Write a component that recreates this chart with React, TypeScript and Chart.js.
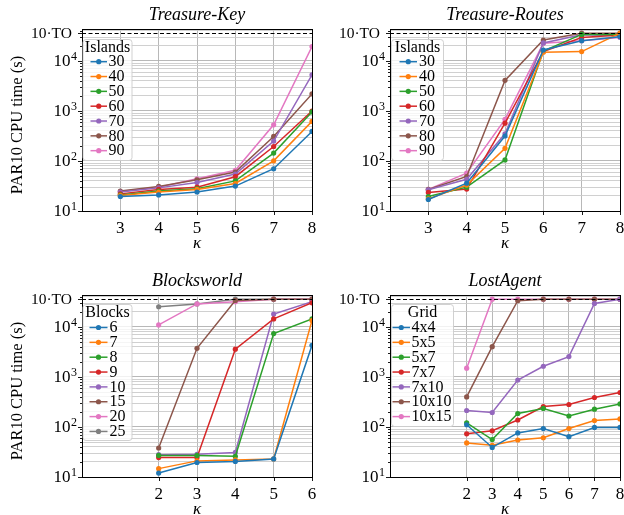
import React, { useEffect, useRef } from 'react';
import { Chart, registerables } from 'chart.js';
Chart.register(...registerables);

const W = 624;
const H = 515;
const FONT = '"Liberation Serif", "Times New Roman", serif';

const TO10 = 36000;
const Y_MIN = 10;
const Y_MAX = 43650;
const Y_MAJOR = [10, 100, 1000, 10000];
const Y_MAJOR_EXP = ['1', '2', '3', '4'];
const TO_LABEL = '10·TO';
const Y_LABEL = 'PAR10 CPU time (s)';
const X_LABEL = 'κ';

const COLORS = ['#1f77b4', '#ff7f0e', '#2ca02c', '#d62728', '#9467bd', '#8c564b', '#e377c2', '#7f7f7f'];

// Treasure-Key
const tkKappa = [3, 4, 5, 6, 7, 8];
const tkTicks = [3, 4, 5, 6, 7, 8];
const tkNames = ['30', '40', '50', '60', '70', '80', '90'];
const tk30 = [19.5, 21, 24, 31.5, 70, 390];
const tk40 = [20.5, 24, 27, 35.5, 101, 620];
const tk50 = [21, 25, 28, 40, 144, 960];
const tk60 = [22, 27, 30, 48.5, 195, 1000];
const tk70 = [24, 29, 37, 55, 250, 5300];
const tk80 = [25, 31, 42, 60, 310, 2200];
const tk90 = [24.5, 30, 44, 65, 530, 19500];

// Treasure-Routes
const trKappa = [3, 4, 5, 6, 7, 8];
const trTicks = [3, 4, 5, 6, 7, 8];
const trNames = ['30', '40', '50', '60', '70', '80', '90'];
const tr30 = [17, 36, 316, 16600, 25500, 30500];
const tr40 = [17.5, 33, 179, 15000, 15400, 36000];
const tr50 = [19.5, 30, 105, 15800, 34000, 34000];
const tr60 = [23.5, 27.5, 570, 15500, 29500, 33000];
const tr70 = [26.5, 43, 350, 23000, 33500, 32000];
const tr80 = [27, 49, 4100, 26300, 36000, 36000];
const tr90 = [27, 57, 680, 22600, 25500, 29500];

// Blocksworld
const bwKappa = [2, 3, 4, 5, 6];
const bwTicks = [2, 3, 4, 5, 6];
const bwNames = ['6', '7', '8', '9', '10', '15', '20', '25'];
const bw6 = [12, 19.5, 20.5, 23, 4300];
const bw7 = [14.7, 21, 22, 23, 13500];
const bw8 = [27, 27, 26, 7400, 14500];
const bw9 = [24.5, 24.5, 3600, 14500, 30500];
const bw10 = [28, 28.5, 31, 18200, 32000];
const bw15 = [38, 3750, 34000, 36000, 36000];
const bw20 = [11000, 29000, 32000, 36000, 36000];
const bw25 = [25400, 29000, 36000, 36000, 36000];

// LostAgent
const laKappa = [2, 3, 4, 5, 6, 7, 8];
const laTicks = [2, 3, 4, 5, 6, 7, 8];
const laNames = ['4x4', '5x5', '5x7', '7x7', '7x10', '10x10', '10x15'];
const la44 = [111, 39, 76, 93, 64, 98, 98];
const la55 = [48, 43, 55, 61, 93, 135, 145];
const la57 = [121, 56, 186, 235, 166, 227, 290];
const la77 = [73, 84, 138, 257, 282, 389, 490];
const la710 = [214, 195, 870, 1640, 2560, 29500, 36000];
const la1010 = [400, 4050, 33500, 36000, 36000, 36000, 36000];
const la1015 = [1500, 36000, 36000, 36000, 36000, 36000, 36000];

const yGrid: number[] = [];
for (let k = 1; k <= 4; k++) {
  for (let m = 1; m <= 9; m++) {
    const v = m * Math.pow(10, k);
    if (v <= Y_MAX) yGrid.push(v);
  }
}
yGrid.push(TO10);

type Legend = { x: number; y: number; w: number; h: number; titleY: number; firstY: number; step: number; s0: number; s1: number; tx: number };
type Panel = {
  title: string;
  kappa: number[];
  xTicks: number[];
  xMin: number;
  xMax: number;
  names: string[];
  values: number[][];
  legendTitle: string;
  area: { l: number; t: number; r: number; b: number };
  legend: Legend;
  yLabelCenter: number | null;
  titleY: number;
  kappaY: number;
};

const panels: Panel[] = [
  {
    title: 'Treasure-Key', kappa: tkKappa, xTicks: tkTicks, xMin: 2, xMax: 8, names: tkNames,
    values: [tk30, tk40, tk50, tk60, tk70, tk80, tk90], legendTitle: 'Islands',
    area: { l: 82, t: 29, r: 312, b: 211 },
    legend: { x: 83, y: 39.5, w: 49, h: 121, titleY: 47.3, firstY: 61.7, step: 14.83, s0: 90.5, s1: 107, tx: 108.5 },
    yLabelCenter: 125, titleY: 15.5, kappaY: 243.5,
  },
  {
    title: 'Treasure-Routes', kappa: trKappa, xTicks: trTicks, xMin: 2, xMax: 8, names: trNames,
    values: [tr30, tr40, tr50, tr60, tr70, tr80, tr90], legendTitle: 'Islands',
    area: { l: 390, t: 29, r: 620, b: 211 },
    legend: { x: 391.5, y: 39.5, w: 52, h: 121, titleY: 47.3, firstY: 61.7, step: 14.83, s0: 399.5, s1: 417, tx: 419 },
    yLabelCenter: null, titleY: 15.5, kappaY: 243.5,
  },
  {
    title: 'Blocksworld', kappa: bwKappa, xTicks: bwTicks, xMin: 0, xMax: 6, names: bwNames,
    values: [bw6, bw7, bw8, bw9, bw10, bw15, bw20, bw25], legendTitle: 'Blocks',
    area: { l: 82, t: 295, r: 312, b: 477 },
    legend: { x: 83, y: 304.5, w: 49, h: 136, titleY: 312.7, firstY: 327.5, step: 14.85, s0: 89.5, s1: 107.5, tx: 109.5 },
    yLabelCenter: 391, titleY: 281.5, kappaY: 509.5,
  },
  {
    title: 'LostAgent', kappa: laKappa, xTicks: laTicks, xMin: -1, xMax: 8, names: laNames,
    values: [la44, la55, la57, la77, la710, la1010, la1015], legendTitle: 'Grid',
    area: { l: 390, t: 295, r: 620, b: 477 },
    legend: { x: 391.5, y: 304.5, w: 62, h: 122, titleY: 312.7, firstY: 327.5, step: 14.85, s0: 392.5, s1: 410, tx: 411.5 },
    yLabelCenter: null, titleY: 281.5, kappaY: 509.5,
  },
];

const Y_W = 30;
const X_H = 40;

function roundRect(ctx: CanvasRenderingContext2D, x: number, y: number, w: number, h: number, r: number) {
  ctx.beginPath();
  ctx.moveTo(x + r, y);
  ctx.lineTo(x + w - r, y);
  ctx.arcTo(x + w, y, x + w, y + r, r);
  ctx.lineTo(x + w, y + h - r);
  ctx.arcTo(x + w, y + h, x + w - r, y + h, r);
  ctx.lineTo(x + r, y + h);
  ctx.arcTo(x, y + h, x, y + h - r, r);
  ctx.lineTo(x, y + r);
  ctx.arcTo(x, y, x + r, y, r);
  ctx.closePath();
}

function panelPlugin(p: Panel) {
  return {
    id: 'panelDecor',
    afterDatasetsDraw(chart: any) {
      const ctx: CanvasRenderingContext2D = chart.ctx;
      const ca = chart.chartArea;
      const ys = chart.scales.y;
      const xs = chart.scales.x;
      ctx.save();
      // dashed timeout line
      const yTO = Math.round(ys.getPixelForValue(TO10)) + 0.5;
      ctx.strokeStyle = '#000';
      ctx.lineWidth = 1;
      ctx.setLineDash([4, 2.5]);
      ctx.beginPath();
      ctx.moveTo(ca.left, yTO);
      ctx.lineTo(ca.right, yTO);
      ctx.stroke();
      ctx.setLineDash([]);
      // frame
      ctx.lineWidth = 1;
      ctx.strokeRect(ca.left + 0.5, ca.top + 0.5, ca.right - ca.left, ca.bottom - ca.top);
      // tick marks
      ctx.lineWidth = 0.9;
      ctx.beginPath();
      for (const v of p.xTicks) {
        const x = Math.round(xs.getPixelForValue(v)) + 0.5;
        ctx.moveTo(x, ca.bottom);
        ctx.lineTo(x, ca.bottom + 4);
      }
      for (const v of yGrid) {
        const y = Math.round(ys.getPixelForValue(v)) + 0.5;
        const major = Y_MAJOR.includes(v) || v === TO10;
        ctx.moveTo(ca.left, y);
        ctx.lineTo(ca.left - (major ? 4 : 2), y);
      }
      ctx.stroke();
      // y tick labels
      ctx.fillStyle = '#000';
      Y_MAJOR.forEach((v, i) => {
        const y = ys.getPixelForValue(v);
        ctx.font = `12px ${FONT}`;
        ctx.textAlign = 'right';
        ctx.textBaseline = 'alphabetic';
        const expW = ctx.measureText(Y_MAJOR_EXP[i]).width;
        const right = ca.left - 5;
        ctx.fillText(Y_MAJOR_EXP[i], right, y - 1);
        ctx.font = `17px ${FONT}`;
        ctx.textBaseline = 'middle';
        ctx.fillText('10', right - expW - 0.5, y + 0.5);
      });
      ctx.font = `15.5px ${FONT}`;
      ctx.textAlign = 'right';
      ctx.textBaseline = 'middle';
      ctx.fillText(TO_LABEL, ca.left - 10, ys.getPixelForValue(TO10) + 1);
      // title
      const cx = (ca.left + ca.right) / 2;
      ctx.font = `italic 18px ${FONT}`;
      ctx.textAlign = 'center';
      ctx.textBaseline = 'middle';
      ctx.fillText(p.title, cx, p.titleY);
      // kappa
      ctx.font = `italic 17px ${FONT}`;
      ctx.fillText(X_LABEL, cx, p.kappaY);
      // y label
      if (p.yLabelCenter !== null) {
        ctx.save();
        ctx.translate(17.5, p.yLabelCenter);
        ctx.rotate(-Math.PI / 2);
        ctx.font = `16.5px ${FONT}`;
        ctx.textAlign = 'center';
        ctx.textBaseline = 'middle';
        ctx.fillText(Y_LABEL, 0, 0);
        ctx.restore();
      }
      // legend
      const L = p.legend;
      ctx.globalAlpha = 0.8;
      ctx.fillStyle = '#ffffff';
      roundRect(ctx, L.x, L.y, L.w, L.h, 3);
      ctx.fill();
      ctx.globalAlpha = 1;
      ctx.strokeStyle = 'rgba(204,204,204,0.9)';
      ctx.lineWidth = 1;
      ctx.stroke();
      ctx.fillStyle = '#000';
      ctx.font = `16px ${FONT}`;
      ctx.textAlign = 'center';
      ctx.textBaseline = 'middle';
      ctx.fillText(p.legendTitle, L.x + L.w / 2, L.titleY);
      ctx.textAlign = 'left';
      p.names.forEach((name, i) => {
        const y = L.firstY + i * L.step;
        ctx.strokeStyle = COLORS[i];
        ctx.lineWidth = 1.5;
        ctx.beginPath();
        ctx.moveTo(L.s0, y);
        ctx.lineTo(L.s1, y);
        ctx.stroke();
        ctx.fillStyle = COLORS[i];
        ctx.beginPath();
        ctx.arc((L.s0 + L.s1) / 2, y, 2.6, 0, Math.PI * 2);
        ctx.fill();
        ctx.fillStyle = '#000';
        ctx.fillText(name, L.tx, y + 0.5);
      });
      ctx.restore();
    },
  };
}

function makeChart(canvas: HTMLCanvasElement, p: Panel) {
  const datasets = p.values.map((vals, i) => ({
    label: p.names[i],
    data: p.kappa.map((k, j) => ({ x: k, y: vals[j] })),
    borderColor: COLORS[i],
    backgroundColor: COLORS[i],
    borderWidth: 1.5,
    pointRadius: 2.6,
    pointBorderWidth: 0,
    pointHoverRadius: 0,
    tension: 0,
    fill: false,
  }));
  return new Chart(canvas, {
    type: 'line',
    data: { datasets },
    options: {
      responsive: false,
      animation: false,
      events: [],
      layout: {
        padding: { left: p.area.l - Y_W, right: W - p.area.r, top: p.area.t, bottom: H - p.area.b - X_H },
      },
      plugins: { legend: { display: false }, title: { display: false }, tooltip: { enabled: false } },
      scales: {
        x: {
          type: 'linear',
          min: p.xMin,
          max: p.xMax,
          afterBuildTicks: (s: any) => { s.ticks = p.xTicks.map((v) => ({ value: v })); },
          afterFit: (s: any) => { s.height = X_H; s.paddingLeft = 0; s.paddingRight = 0; },
          grid: { color: '#b0b0b0', lineWidth: 0.9, drawTicks: false },
          border: { display: false },
          ticks: {
            font: { family: FONT, size: 17 },
            color: '#000',
            padding: 7,
            maxRotation: 0,
            autoSkip: false,
            callback: (v: any) => String(v),
          },
        },
        y: {
          type: 'logarithmic',
          min: Y_MIN,
          max: Y_MAX,
          afterBuildTicks: (s: any) => { s.ticks = yGrid.map((v) => ({ value: v })); },
          afterFit: (s: any) => { s.width = Y_W; s.paddingTop = 0; s.paddingBottom = 0; },
          grid: {
            color: (c: any) => {
              const v = c.tick ? c.tick.value : 0;
              if (v === TO10) return 'rgba(0,0,0,0)';
              return Y_MAJOR.includes(v) ? '#b0b0b0' : '#cbcbcb';
            },
            lineWidth: 0.9,
            drawTicks: false,
          },
          border: { display: false },
          ticks: { display: false },
        },
      },
    } as any,
    plugins: [panelPlugin(p) as any],
  });
}

function PanelCanvas({ p }: { p: Panel }) {
  const ref = useRef<HTMLCanvasElement | null>(null);
  useEffect(() => {
    if (!ref.current) return;
    const c = makeChart(ref.current, p);
    return () => c.destroy();
  }, [p]);
  return (
    <canvas
      ref={ref}
      width={W}
      height={H}
      style={{ position: 'absolute', left: 0, top: 0, width: W, height: H }}
    />
  );
}

export default function App() {
  return (
    <div style={{ position: 'absolute', left: 0, top: 0, width: W, height: H, background: '#fff', overflow: 'hidden' }}>
      {panels.map((p, i) => (
        <PanelCanvas key={i} p={p} />
      ))}
    </div>
  );
}
